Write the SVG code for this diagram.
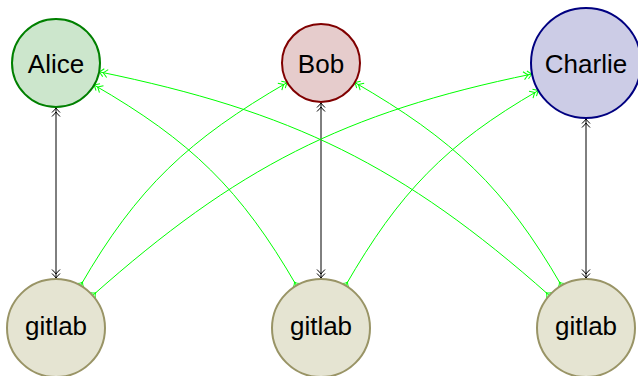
<svg xmlns="http://www.w3.org/2000/svg" width="638" height="376" viewBox="0 0 638 376">
<style>
text{font-family:"Liberation Sans","DejaVu Sans",sans-serif;font-size:26px;fill:#000;text-anchor:middle}
.n circle{stroke-width:2}
.alice circle{fill:#cce6cc;stroke:#008000}
.bob circle{fill:#e6cccc;stroke:#800000}
.charlie circle{fill:#ccccE6;stroke:#000080}
.git circle{fill:#e5e4d2;stroke:#999466}
.blk{stroke:#000;stroke-width:1;fill:none;marker-start:url(#dk);marker-end:url(#dk)}
.grn{stroke:#00ff00;stroke-width:1;fill:none;marker-start:url(#tg);marker-end:url(#dg)}
</style>
<defs>
<marker id="dk" markerUnits="userSpaceOnUse" markerWidth="12" markerHeight="10" viewBox="-10 -5 12 10" refX="0" refY="0" orient="auto-start-reverse" overflow="visible">
<path d="M-4.5,-4 Q-1.5,-1 0,0 Q-1.5,1 -4.5,4 M-8.5,-4 Q-5.5,-1 -4,0 Q-5.5,1 -8.5,4" fill="none" stroke="#000" stroke-width="1"/>
</marker>
<marker id="dg" markerUnits="userSpaceOnUse" markerWidth="12" markerHeight="10" viewBox="-10 -5 12 10" refX="0" refY="0" orient="auto" overflow="visible">
<path d="M-4.5,-4 Q-1.5,-1 0,0 Q-1.5,1 -4.5,4 M-8.5,-4 Q-5.5,-1 -4,0 Q-5.5,1 -8.5,4" fill="none" stroke="#00ff00" stroke-width="1"/>
</marker>
<marker id="tg" markerUnits="userSpaceOnUse" markerWidth="10" markerHeight="10" viewBox="-5 -5 10 10" refX="0" refY="0" orient="auto" overflow="visible">
<path d="M0,-4 Q2,-1 4,0 Q2,1 0,4" fill="none" stroke="#00ff00" stroke-width="1"/>
</marker>
</defs>
<g id="connectors">
<line class="blk" x1="56" y1="108" x2="56" y2="278"/>
<line class="blk" x1="321" y1="103" x2="321" y2="278"/>
<line class="blk" x1="586" y1="119" x2="586" y2="278"/>
<path class="grn" d="M80.5,285.6 C137.2,187.3 188.9,139.3 287.2,82.5"/>
<path class="grn" d="M92.6,295.5 C236.7,167.6 343.3,112.7 532.1,74"/>
<path class="grn" d="M296.5,285.6 C240.7,189 190.7,140.8 94.1,85"/>
<path class="grn" d="M549.4,295.5 C402.2,164.8 291.9,111.3 99.1,71.8"/>
<path class="grn" d="M345.5,285.6 C399.2,192.6 445.4,144.2 538.4,90.5"/>
<path class="grn" d="M561.5,285.6 C504.75,187.3 453.1,139.25 354.8,82.5"/>
</g>
<g id="alice" class="n alice"><circle cx="56" cy="63" r="44"/><text x="56" y="72.5">Alice</text></g>
<g id="bob" class="n bob"><circle cx="321" cy="63" r="39"/><text x="321" y="72.5">Bob</text></g>
<g id="charlie" class="n charlie"><circle cx="586" cy="63" r="55"/><text x="586" y="72.5">Charlie</text></g>
<g id="gitlab1" class="n git"><circle cx="56" cy="328" r="49"/><text x="56" y="335">gitlab</text></g>
<g id="gitlab2" class="n git"><circle cx="321" cy="328" r="49"/><text x="321" y="335">gitlab</text></g>
<g id="gitlab3" class="n git"><circle cx="586" cy="328" r="49"/><text x="586" y="335">gitlab</text></g>
</svg>
